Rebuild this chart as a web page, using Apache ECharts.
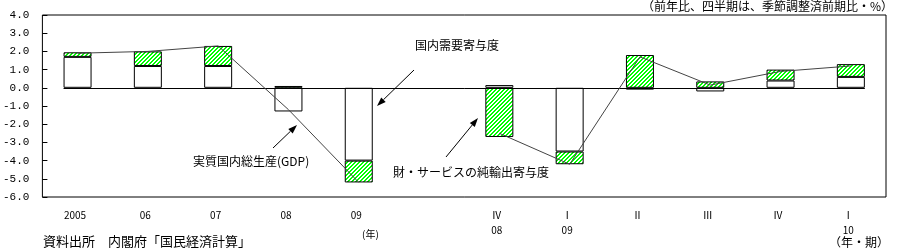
<!DOCTYPE html>
<html>
<head>
<meta charset="utf-8">
<script src="https://cdn.jsdelivr.net/npm/echarts@6/dist/echarts.min.js"></script>
<style>
html,body{margin:0;padding:0;background:#fff;}
#chart{width:897px;height:249px;}
</style>
</head>
<body>
<div id="chart"></div>
<script>
// ---- data ----
var categories = ['2005', '06', '07', '08', '09', '', 'Ⅳ\n08', 'Ⅰ\n09', 'Ⅱ', 'Ⅲ', 'Ⅳ', 'Ⅰ\n10'];
var domesticDemand = [1.7, 1.2, 1.2, -1.3, -4.0, null, 0.15, -3.5, -0.1, -0.2, 0.4, 0.6];
var netExports = [0.25, 0.8, 1.1, 0.1, -1.2, null, -2.7, -0.7, 1.8, 0.35, 0.6, 0.7];
var realGDP = [1.9, 2.0, 2.3, -1.2, -5.2, null, -2.5, -4.2, 1.7, 0.15, 0.9, 1.2];
var yTicks = [-6, -5, -4, -3, -2, -1, 0, 1, 2, 3, 4];

// hatch pattern (green "////" stripes)
var pat = document.createElement('canvas');
pat.width = 4; pat.height = 4;
var pctx = pat.getContext('2d');
var img = pctx.createImageData(4, 4);
for (var yy = 0; yy < 4; yy++) {
  for (var xx = 0; xx < 4; xx++) {
    var i = (yy * 4 + xx) * 4;
    var g = ((xx + yy) % 4) < 2;
    img.data[i] = g ? 0 : 255;
    img.data[i + 1] = 255;
    img.data[i + 2] = g ? 0 : 255;
    img.data[i + 3] = 255;
  }
}
pctx.putImageData(img, 0, 0);

var chart = echarts.init(document.getElementById('chart'), null, {renderer: 'canvas'});
var cjk = '"Noto Sans CJK JP", sans-serif';

var option = {
  animation: false,
  backgroundColor: '#fff',
  grid: {left: 40, right: 11, top: 15, bottom: 52, show: true, borderColor: '#000', borderWidth: 1, backgroundColor: 'transparent'},
  xAxis: {
    type: 'category',
    data: categories,
    axisLine: {show: false},
    axisTick: {show: false},
    splitLine: {show: false},
    axisLabel: {
      interval: 0, margin: 11, fontSize: 10, lineHeight: 15, color: '#000',
      fontFamily: cjk, padding: [0, 5, 0, 0]
    }
  },
  yAxis: {
    type: 'value', min: yTicks[0], max: yTicks[yTicks.length - 1], interval: 1,
    axisLine: {show: false},
    axisTick: {show: true, inside: true, length: 5, lineStyle: {color: '#000'}},
    splitLine: {show: false},
    axisLabel: {
      margin: 13, fontSize: 11, color: '#000', fontFamily: '"Liberation Mono", monospace',
      formatter: function (v) { return v.toFixed(1); }
    }
  },
  series: [
    {
      name: '国内需要寄与度', type: 'bar', stack: 'c', barWidth: 28,
      data: domesticDemand,
      itemStyle: {color: '#fff', borderColor: '#000', borderWidth: 1}
    },
    {
      name: '財・サービスの純輸出寄与度', type: 'bar', stack: 'c', barWidth: 28,
      data: netExports,
      itemStyle: {color: {image: pat, repeat: 'repeat'}, borderColor: '#000', borderWidth: 1}
    },
    {
      name: '実質国内総生産(GDP)', type: 'line', data: realGDP,
      showSymbol: false, symbol: 'none', connectNulls: false,
      lineStyle: {color: '#444', width: 1}, z: 5
    }
  ]
};
chart.setOption(option);

function arrow(x1, y1, x2, y2) {
  var ang = Math.atan2(y2 - y1, x2 - x1);
  var L = 9, W = 3.2;
  var bx = x2 - L * Math.cos(ang), by = y2 - L * Math.sin(ang);
  var px = -Math.sin(ang) * W, py = Math.cos(ang) * W;
  return [
    {type: 'line', shape: {x1: x1, y1: y1, x2: bx, y2: by}, style: {stroke: '#000', lineWidth: 1}, z: 10},
    {type: 'polygon', shape: {points: [[x2, y2], [bx + px, by + py], [bx - px, by - py]]}, style: {fill: '#000'}, z: 10}
  ];
}

var p0 = chart.convertToPixel({gridIndex: 0}, [0, 0]);
var p1 = chart.convertToPixel({gridIndex: 0}, [categories.length - 1, 0]);
var half = 14;
var g = [
  {type: 'line', shape: {x1: p0[0] - half, y1: Math.round(p0[1]) + 0.5, x2: p1[0] + half, y2: Math.round(p0[1]) + 0.5}, style: {stroke: '#000', lineWidth: 1}, z: 4},
  {type: 'text', right: 4, top: 0, style: {text: '（前年比、四半期は、季節調整済前期比・%）', font: '12px ' + cjk, fill: '#000'}},
  {type: 'text', left: 415, top: 39, style: {text: '国内需要寄与度', font: '12px ' + cjk, fill: '#000'}, z: 10},
  {type: 'text', left: 193, top: 155, style: {text: '実質国内総生産(GDP)', font: '12px ' + cjk, fill: '#000'}, z: 10},
  {type: 'text', left: 393, top: 166, style: {text: '財・サービスの純輸出寄与度', font: '12px ' + cjk, fill: '#000'}, z: 10},
  {type: 'text', left: 362, top: 229, style: {text: '(年)', font: '10px ' + cjk, fill: '#000'}},
  {type: 'text', left: 829, top: 236, style: {text: '（年・期）', font: '12px ' + cjk, fill: '#000'}},
  {type: 'text', left: 43, top: 235, style: {text: '資料出所　内閣府「国民経済計算」', font: '13px ' + cjk, fill: '#000'}}
];
g = g.concat(arrow(414, 70, 377, 106));
g = g.concat(arrow(273, 148, 297, 125));
g = g.concat(arrow(446, 157, 478, 118));
chart.setOption({graphic: g});
</script>
</body>
</html>
